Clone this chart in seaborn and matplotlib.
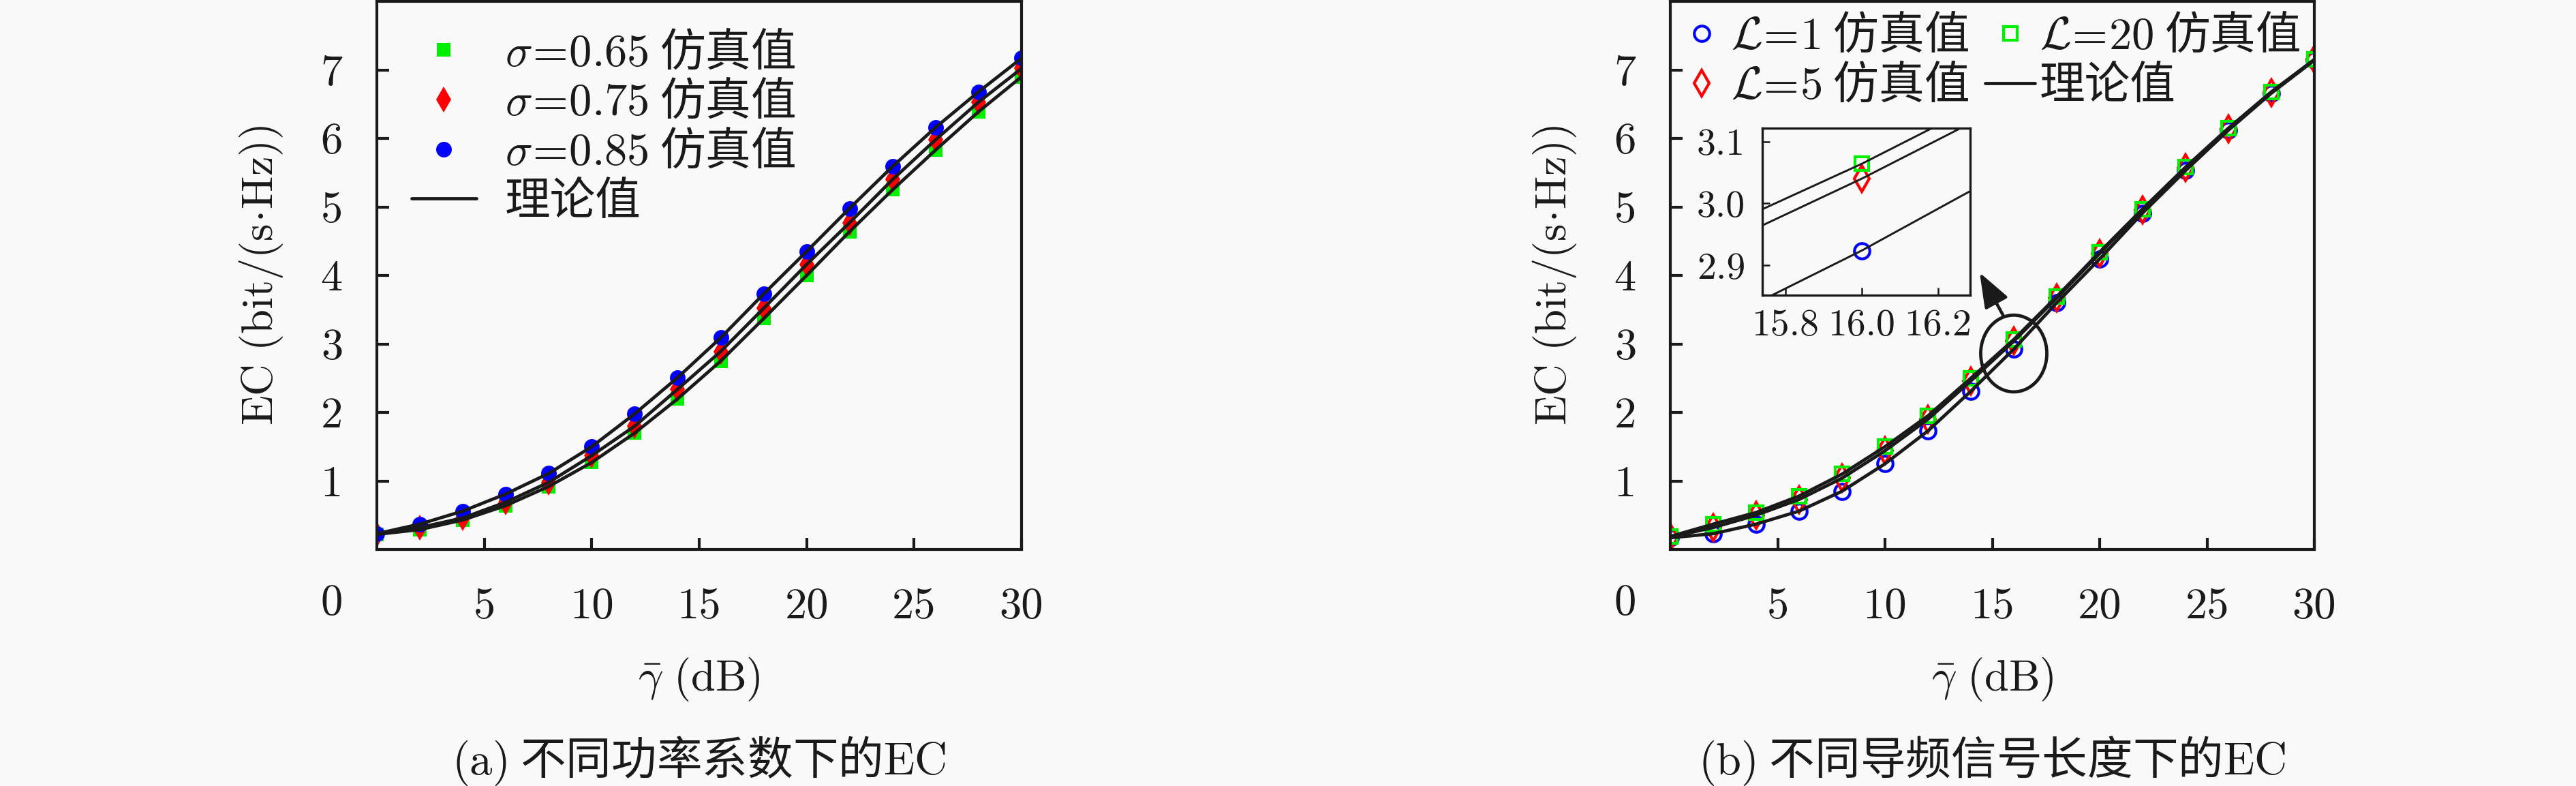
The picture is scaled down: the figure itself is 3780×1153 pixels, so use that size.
import matplotlib
matplotlib.use('Agg')
import matplotlib.pyplot as plt
import seaborn as sns
from matplotlib.patches import Ellipse

# ---- data ----
gamma_db = [0, 2, 4, 6, 8, 10, 12, 14, 16, 18, 20, 22, 24, 26, 28, 30]

# (a) different power coefficients sigma
ec_sigma_065 = [0.22, 0.29, 0.43, 0.64, 0.92, 1.27, 1.70, 2.20, 2.75, 3.37, 4.00, 4.64, 5.25, 5.83, 6.39, 6.90]
ec_sigma_075 = [0.22, 0.32, 0.46, 0.69, 0.98, 1.37, 1.80, 2.34, 2.89, 3.52, 4.16, 4.77, 5.40, 5.98, 6.53, 7.02]
ec_sigma_085 = [0.23, 0.37, 0.56, 0.81, 1.11, 1.50, 1.98, 2.51, 3.09, 3.73, 4.35, 4.98, 5.59, 6.16, 6.68, 7.17]

# (b) different pilot lengths L
ec_L1 = [0.17, 0.23, 0.37, 0.56, 0.85, 1.25, 1.73, 2.31, 2.924, 3.60, 4.24, 4.91, 5.53, 6.12, 6.66, 7.14]
ec_L5 = [0.18, 0.32, 0.50, 0.73, 1.04, 1.44, 1.90, 2.46, 3.040, 3.67, 4.32, 4.96, 5.57, 6.14, 6.67, 7.15]
ec_L20 = [0.19, 0.37, 0.54, 0.78, 1.10, 1.50, 1.95, 2.50, 3.064, 3.69, 4.34, 4.97, 5.58, 6.15, 6.68, 7.15]

xticks = [5, 10, 15, 20, 25, 30]
xtick_labels = ['5', '10', '15', '20', '25', '30']
yticks = [1, 2, 3, 4, 5, 6, 7]
ytick_labels = ['1', '2', '3', '4', '5', '6', '7']

zoom_x = 16.0
ins_xticks = [15.8, 16.0, 16.2]
ins_xtick_labels = ['15.8', '16.0', '16.2']
ins_yticks = [2.9, 3.0, 3.1]
ins_ytick_labels = ['2.9', '3.0', '3.1']

labels_a = [r'$\sigma\!=\!0.65$ 仿真值', r'$\sigma\!=\!0.75$ 仿真值', r'$\sigma\!=\!0.85$ 仿真值']
labels_b = [r'$\mathcal{L}\!=\!1$ 仿真值', r'$\mathcal{L}\!=\!5$ 仿真值', r'$\mathcal{L}\!=\!20$ 仿真值']
theory_label = '理论值'

BG = '#f9f9f9'
FS = 15.5
CJK = ['Noto Sans CJK SC']

sns.set_theme(style='ticks', rc={'text.color': 'k', 'axes.labelcolor': 'k',
                                 'xtick.color': 'k', 'ytick.color': 'k',
                                 'axes.edgecolor': 'k'})
plt.rcParams['font.family'] = ['cmr10', 'Noto Sans CJK SC', 'DejaVu Sans']
plt.rcParams['mathtext.fontset'] = 'cm'
plt.rcParams['axes.formatter.use_mathtext'] = True
plt.rcParams['axes.unicode_minus'] = False

W, H = 3780, 1153
fig = plt.figure(figsize=(W / 300, H / 300), dpi=300, facecolor=BG)

ax_a = fig.add_axes([553 / W, 1 - 806 / H, 946 / W, 804 / H], facecolor=BG)
ax_b = fig.add_axes([2451 / W, 1 - 806 / H, 945 / W, 804 / H], facecolor=BG)


def draw_sims(ax, series, styles, labels=None, mew=0.0):
    for i, (vals, (c, m, ms, filled)) in enumerate(zip(series, styles)):
        kw = dict(label=labels[i]) if labels else {}
        sns.lineplot(x=gamma_db, y=vals, ax=ax, color=c, linestyle='',
                     marker=m, markersize=ms, markeredgecolor=c,
                     markerfacecolor=c if filled else 'none',
                     markeredgewidth=mew, errorbar=None, zorder=2, **kw)


def draw_theory(ax, series, lw, label=True):
    for i, vals in enumerate(series):
        kw = dict(label=theory_label) if (label and i == 0) else {}
        sns.lineplot(x=gamma_db, y=vals, ax=ax, color='k', lw=lw,
                     errorbar=None, zorder=3, **kw)


def style_axes(ax):
    ax.set_xlim(0, 30)
    ax.set_ylim(0, 8)
    ax.set_xticks(xticks, labels=xtick_labels)
    ax.set_yticks(yticks, labels=ytick_labels)
    ax.tick_params(direction='in', length=4.2, width=1.0, labelsize=FS,
                   top=False, right=False)
    ax.tick_params(axis='x', pad=13.4)
    ax.tick_params(axis='y', pad=12)
    for sp in ax.spines.values():
        sp.set_visible(True)
        sp.set_linewidth(1.0)
        sp.set_color('k')
    ax.set_xlabel(r'$\bar{\gamma}\ (\mathrm{dB})$', fontsize=FS)
    ax.set_ylabel(r'$\mathrm{EC\ (bit/(s\!\cdot\!Hz))}$', fontsize=FS)
    ax.xaxis.set_label_coords(0.5, -0.194)
    ax.yaxis.set_label_coords(-0.143, 0.5)
    ax.annotate('0', xy=(0, 0), xycoords='axes fraction', xytext=(-15.8, -19.2),
                textcoords='offset points', ha='center', va='center', fontsize=FS)


# ---- (a) ----
series_a = [ec_sigma_065, ec_sigma_075, ec_sigma_085]
styles_a = [('#00ee00', 's', 4.8, True), ('#ff0000', 'd', 6.5, True), ('#0000ff', 'o', 5.5, True)]
draw_sims(ax_a, series_a, styles_a, labels_a)
draw_theory(ax_a, series_a, lw=1.15)
style_axes(ax_a)
h, l = ax_a.get_legend_handles_labels()
ax_a.legend(h, l, loc='upper left', bbox_to_anchor=(0.054, 0.948), frameon=False,
            borderpad=0, borderaxespad=0, handlelength=1.42, handletextpad=0.63,
            labelspacing=0.08, prop={'family': CJK, 'size': 16})

# ---- (b) ----
series_b = [ec_L1, ec_L5, ec_L20]
styles_b = [('#0000ff', 'o', 5.4, False), ('#ff0000', 'd', 6.5, False), ('#00ee00', 's', 4.6, False)]
draw_sims(ax_b, series_b, styles_b, labels_b, mew=1.0)
draw_theory(ax_b, series_b, lw=1.15)
style_axes(ax_b)
h, l = ax_b.get_legend_handles_labels()
ax_b.legend(h, l, loc='upper left', bbox_to_anchor=(0.01, 0.978), frameon=False, ncol=2,
            borderpad=0, borderaxespad=0, handlelength=1.1, handletextpad=0.1,
            columnspacing=0.35, labelspacing=0.08, prop={'family': CJK, 'size': 16})

# zoom ellipse and arrow
ax_b.add_patch(Ellipse((zoom_x, 2.86), width=3.08, height=1.12, fill=False,
                       lw=1.15, ec='k', zorder=4))
ax_b.annotate('', xy=(14.41, 4.04), xytext=(15.5, 3.42),
              arrowprops=dict(arrowstyle='-|>,head_length=0.4,head_width=0.15',
                              mutation_scale=26, lw=1.1, color='k',
                              shrinkA=0, shrinkB=0), zorder=5)

# inset
axins = ax_b.inset_axes([0.1429, 0.4639, 0.3228, 0.3047])
axins.set_facecolor(BG)
draw_sims(axins, series_b, styles_b, mew=1.0)
draw_theory(axins, series_b, lw=0.7, label=False)
axins.set_xlim(15.74, 16.284)
axins.set_ylim(2.852, 3.1215)
axins.set_xticks(ins_xticks, labels=ins_xtick_labels)
axins.set_yticks(ins_yticks, labels=ins_ytick_labels)
axins.tick_params(direction='in', length=2.6, width=0.6, labelsize=13.4,
                  top=False, right=False)
axins.tick_params(axis='x', pad=5)
axins.tick_params(axis='y', pad=6)
axins.set_xlabel('')
axins.set_ylabel('')
for sp in axins.spines.values():
    sp.set_visible(True)
    sp.set_linewidth(0.8)
    sp.set_color('k')

# sub captions
fig.text(1026 / W, 1 - 1116 / H, r'$\mathrm{(a)}$ 不同功率系数下的$\mathrm{EC}$',
         ha='center', va='center', fontsize=16, family=CJK)
fig.text(2923.5 / W, 1 - 1116 / H, r'$\mathrm{(b)}$ 不同导频信号长度下的$\mathrm{EC}$',
         ha='center', va='center', fontsize=16, family=CJK)

fig.savefig('out.png', dpi=300, facecolor=BG)
